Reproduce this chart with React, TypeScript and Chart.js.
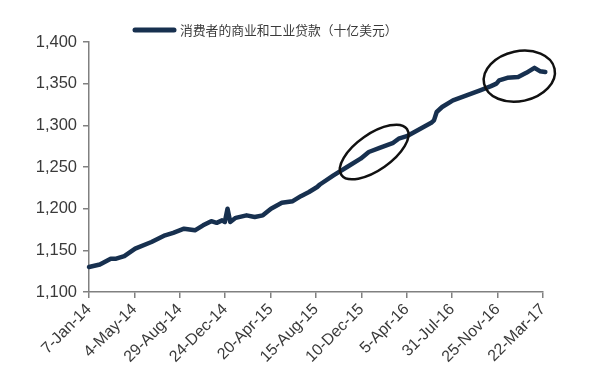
import { useEffect, useRef } from "react";
import { Chart, registerables } from "chart.js";

Chart.register(...registerables);

// ---- data ----
const DATES = [
  "2014-01-07", "2014-02-04", "2014-03-04", "2014-03-18", "2014-04-08", "2014-05-06",
  "2014-06-17", "2014-07-22", "2014-08-12", "2014-09-09", "2014-10-07", "2014-10-28",
  "2014-11-18", "2014-12-02", "2014-12-16", "2014-12-23", "2014-12-30", "2015-01-06",
  "2015-01-20", "2015-02-17", "2015-03-10", "2015-03-31", "2015-04-21", "2015-05-19",
  "2015-06-16", "2015-07-07", "2015-07-28", "2015-08-18", "2015-08-25", "2015-09-29",
  "2015-11-03", "2015-12-08", "2015-12-29", "2016-01-26", "2016-03-01", "2016-03-15",
  "2016-04-05", "2016-05-10", "2016-06-07", "2016-06-14", "2016-06-21", "2016-07-05",
  "2016-08-02", "2016-09-06", "2016-10-11", "2016-11-08", "2016-11-22", "2016-11-29",
  "2016-12-20", "2017-01-17", "2017-02-07", "2017-02-28", "2017-03-14", "2017-03-28",
];
const VALUES = [
  1130, 1133, 1140, 1140, 1143, 1152,
  1160, 1168, 1171, 1176, 1174, 1180,
  1185, 1183, 1186, 1184, 1200, 1184,
  1189, 1192, 1190, 1192, 1200, 1207,
  1209, 1215, 1220, 1226, 1229, 1240,
  1250, 1260, 1268, 1273, 1279, 1284,
  1287, 1296, 1303, 1306, 1316, 1322,
  1330, 1336, 1342, 1347, 1350, 1354,
  1357, 1358, 1363, 1369, 1365, 1364,
];
const SERIES_LABEL = "消费者的商业和工业贷款（十亿美元）";
const X_TICK_START = "2014-01-07";
const X_TICK_STEP_DAYS = 117;
const X_TICK_COUNT = 10;
const Y_MIN = 1100;
const Y_MAX = 1400;
const Y_STEP = 50;
// highlighted regions (centre date, centre value)
const HIGHLIGHT_DATES = ["2016-01-12", "2017-01-20"];
const HIGHLIGHT_VALUES = [1268, 1359];

const MONTHS = ["Jan", "Feb", "Mar", "Apr", "May", "Jun", "Jul", "Aug", "Sep", "Oct", "Nov", "Dec"];
const DAY_MS = 86400000;
const parse = (s: string) => {
  const [y, m, d] = s.split("-").map(Number);
  return Date.UTC(y, m - 1, d);
};
const ORIGIN = parse(X_TICK_START);
const toDay = (s: string) => (parse(s) - ORIGIN) / DAY_MS;
const fmtDay = (day: number) => {
  const dt = new Date(ORIGIN + Math.round(day) * DAY_MS);
  return `${dt.getUTCDate()}-${MONTHS[dt.getUTCMonth()]}-${String(dt.getUTCFullYear()).slice(2)}`;
};

const LINE_COLOR = "#17304f";
const TEXT_COLOR = "#3a3a3a";
const AXIS_COLOR = "#808080";
const FONT = "'Liberation Sans', Arial, sans-serif";

export default function App() {
  const ref = useRef<HTMLCanvasElement | null>(null);

  useEffect(() => {
    document.body.style.margin = "0";
    const canvas = ref.current;
    if (!canvas) return;

    const annotate = {
      id: "annotate",
      afterDatasetsDraw(chart: any) {
        const { ctx, scales } = chart;
        const shapes = [
          { rx: 40, ry: 18, rot: -35 },
          { rx: 36, ry: 25, rot: -12 },
        ];
        ctx.save();
        ctx.strokeStyle = "#111";
        ctx.lineWidth = 2.5;
        HIGHLIGHT_DATES.forEach((d, i) => {
          const cx = scales.x.getPixelForValue(toDay(d));
          const cy = scales.y.getPixelForValue(HIGHLIGHT_VALUES[i]);
          const s = shapes[i];
          ctx.beginPath();
          ctx.ellipse(cx, cy, s.rx, s.ry, (s.rot * Math.PI) / 180, 0, Math.PI * 2);
          ctx.stroke();
        });
        ctx.restore();
      },
      afterDraw(chart: any) {
        const { ctx } = chart;
        ctx.save();
        const y = 30;
        ctx.strokeStyle = LINE_COLOR;
        ctx.lineWidth = 5;
        ctx.lineCap = "round";
        ctx.beginPath();
        ctx.moveTo(135, y);
        ctx.lineTo(174, y);
        ctx.stroke();
        ctx.fillStyle = TEXT_COLOR;
        ctx.font = "12.8px 'Noto Sans CJK SC', sans-serif";
        ctx.textBaseline = "middle";
        ctx.fillText(SERIES_LABEL, 180, y);
        ctx.restore();
      },
    };

    const chart = new Chart(canvas, {
      type: "line",
      data: {
        datasets: [
          {
            label: SERIES_LABEL,
            data: DATES.map((d, i) => ({ x: toDay(d), y: VALUES[i] })),
            borderColor: LINE_COLOR,
            backgroundColor: LINE_COLOR,
            borderWidth: 4.5,
            pointRadius: 0,
            tension: 0,
            borderCapStyle: "round",
            borderJoinStyle: "round",
            clip: 8,
          } as any,
        ],
      },
      options: {
        responsive: false,
        animation: false,
        layout: { padding: { top: 42, right: 57, left: 0, bottom: 0 } },
        plugins: { legend: { display: false }, tooltip: { enabled: false } },
        scales: {
          x: {
            type: "linear",
            min: 0,
            max: X_TICK_STEP_DAYS * X_TICK_COUNT,
            grid: { drawOnChartArea: false, color: AXIS_COLOR, tickLength: 6, lineWidth: 1.5 },
            border: { color: AXIS_COLOR, width: 1.5 },
            afterBuildTicks: (scale: any) => {
              scale.ticks = Array.from({ length: X_TICK_COUNT + 1 }, (_, i) => ({ value: i * X_TICK_STEP_DAYS }));
            },
            afterFit: (scale: any) => {
              scale.height = 84;
            },
            ticks: {
              autoSkip: false,
              maxRotation: 45,
              minRotation: 45,
              padding: 2,
              color: TEXT_COLOR,
              font: { family: FONT, size: 16 },
              callback: (v: any) => fmtDay(Number(v)),
            },
          },
          y: {
            min: Y_MIN,
            max: Y_MAX,
            grid: { drawOnChartArea: false, color: AXIS_COLOR, tickLength: 6, lineWidth: 1.5 },
            border: { color: AXIS_COLOR, width: 1.5 },
            afterFit: (scale: any) => {
              scale.width = 89;
            },
            ticks: {
              stepSize: Y_STEP,
              padding: 6,
              color: TEXT_COLOR,
              font: { family: FONT, size: 16.5 },
              callback: (v: any) => Number(v).toLocaleString("en-US"),
            },
          },
        },
      },
      plugins: [annotate],
    });
    return () => chart.destroy();
  }, []);

  return (
    <div style={{ width: 600, height: 376, background: "#fff" }}>
      <canvas ref={ref} width={600} height={376} />
    </div>
  );
}
